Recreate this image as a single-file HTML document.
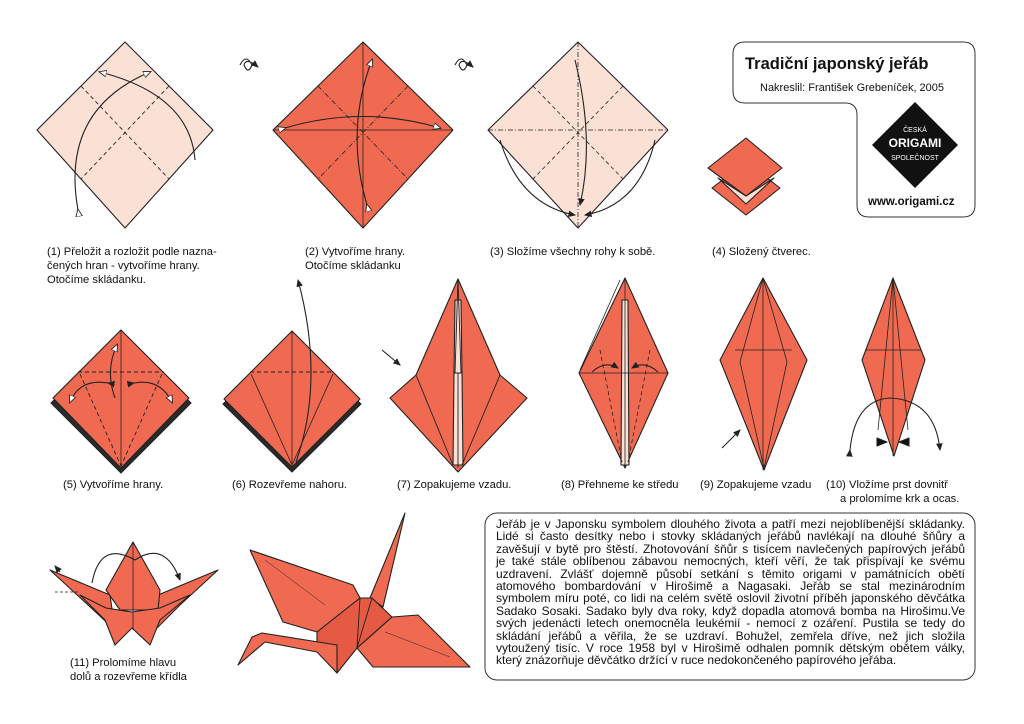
<!DOCTYPE html>
<html><head><meta charset="utf-8"><style>
body{margin:0;background:#fff;}
svg{display:block;font-family:"Liberation Sans",sans-serif;}
.l{font-size:11.2px;fill:#111;}
.p{position:absolute;left:496px;top:518px;width:469px;font:12px/12.4px "Liberation Sans",sans-serif;color:#111;}
.p div{text-align:justify;text-align-last:justify;white-space:nowrap;}
.p div.e{text-align-last:left;}
</style></head><body>
<div style="position:relative;width:1024px;height:724px;overflow:hidden">
<svg width="1024" height="724" viewBox="0 0 1024 724">
<defs>
<marker id="ah" markerWidth="8" markerHeight="8" refX="6" refY="4" orient="auto"><path d="M0,1 L7,4 L0,7 Z" fill="#fff" stroke="#222" stroke-width="0.8"/></marker>
<marker id="bh" markerWidth="8" markerHeight="8" refX="6" refY="4" orient="auto"><path d="M0,1 L7,4 L0,7 Z" fill="#222"/></marker>
</defs>
<g stroke="#222" stroke-width="1.1" stroke-linejoin="round">
<!-- 1 -->
<polygon points="125,42 213,130 125,228 37,130" fill="#fbe0d6"/>
<g stroke-dasharray="4,3" fill="none" stroke-width="0.9"><line x1="81" y1="86" x2="169" y2="179"/><line x1="169" y1="86" x2="81" y2="179"/></g>
<path d="M78,210 Q60,110 150,72" fill="none" marker-end="url(#ah)" marker-start="url(#ah)"/>
<path d="M195,160 Q190,95 100,72" fill="none" marker-end="url(#ah)"/>
<!-- 2 -->
<polygon points="363,42 453,130 363,228 273,130" fill="#f06a52"/>
<g stroke-width="0.8" fill="none"><line x1="363" y1="42" x2="363" y2="228"/><line x1="273" y1="130" x2="453" y2="130"/></g>
<g stroke-dasharray="5,2,1,2" stroke-width="0.8" fill="none"><line x1="318" y1="86" x2="408" y2="179"/><line x1="408" y1="86" x2="318" y2="179"/></g>
<path d="M285,128 Q363,105 440,128" fill="none" marker-end="url(#ah)" marker-start="url(#ah)"/>
<path d="M367,205 Q345,130 372,60" fill="none" marker-end="url(#ah)" marker-start="url(#ah)"/>
<path d="M240,65 q6,-12 12,0 q-4,10 -8,0 q2,-8 14,2" fill="none" marker-end="url(#bh)"/>
<!-- 3 -->
<polygon points="578,42 668,130 578,228 488,130" fill="#fbe0d6"/>
<g stroke-width="0.8" fill="none" stroke-dasharray="5,2,1,2"><line x1="488" y1="130" x2="668" y2="130"/><line x1="578" y1="42" x2="578" y2="228"/></g>
<g stroke-dasharray="4,3" stroke-width="0.8" fill="none"><line x1="533" y1="86" x2="623" y2="179"/><line x1="623" y1="86" x2="533" y2="179"/></g>
<path d="M500,140 Q520,205 575,215" fill="none" marker-end="url(#bh)"/>
<path d="M655,140 Q640,205 585,215" fill="none" marker-end="url(#bh)"/>
<path d="M575,60 Q595,140 580,205" fill="none" marker-end="url(#bh)"/>
<path d="M455,65 q6,-12 12,0 q-4,10 -8,0 q2,-8 14,2" fill="none" marker-end="url(#bh)"/>
<!-- 4 -->
<polygon points="712,188 746,162 780,188 746,215" fill="#f06a52"/>
<polygon points="718,178 746,204 774,178 746,196" fill="#fbe0d6"/>
<polygon points="708,168 746,138 782,168 746,196" fill="#f06a52"/>
<!-- 5 -->
<polygon points="121,335 191,403 121,473 51,403" fill="#2a2a2a"/>
<polygon points="121,330 189,398 121,468 53,398" fill="#f06a52"/>
<line x1="121" y1="330" x2="121" y2="468" stroke-width="0.8"/>
<g stroke-dasharray="4,3" fill="none" stroke-width="0.9"><line x1="78" y1="372" x2="164" y2="372"/><line x1="80" y1="374" x2="121" y2="466"/><line x1="162" y1="374" x2="121" y2="466"/></g>
<path d="M115,398 Q105,370 117,345" fill="none" marker-end="url(#ah)"/>
<path d="M108,383 Q80,378 70,402" fill="none" marker-end="url(#ah)" marker-start="url(#bh)"/>
<path d="M134,383 Q160,378 172,402" fill="none" marker-end="url(#ah)" marker-start="url(#bh)"/>
<!-- 6 -->
<polygon points="292,336 361,404 292,472 223,404" fill="#2a2a2a"/>
<polygon points="292,331 360,399 292,467 224,399" fill="#f06a52"/>
<line x1="292" y1="331" x2="292" y2="467" stroke-width="0.8"/>
<g stroke-dasharray="4,3" fill="none" stroke-width="0.9"><line x1="250" y1="372" x2="334" y2="372"/></g>
<g fill="none" stroke-width="0.8"><line x1="251" y1="374" x2="292" y2="465"/><line x1="333" y1="374" x2="292" y2="465"/></g>
<path d="M296,462 Q325,380 298,280" fill="none" marker-end="url(#bh)"/>
<!-- 7 -->
<polygon points="458,279 500,375 527,398 458,472 390,398 416,375" fill="#f06a52"/>
<polygon points="455,300 461,300 462,373 454,373" fill="#fbe0d6"/>
<polygon points="454,373 462,373 463,465 453,465" fill="#fbe0d6"/>
<g fill="none" stroke-width="0.9"><line x1="458" y1="279" x2="455" y2="373"/><line x1="458" y1="279" x2="461" y2="373"/><line x1="416" y1="375" x2="453" y2="465"/><line x1="500" y1="375" x2="462" y2="465"/><line x1="454" y1="373" x2="462" y2="373"/><line x1="458" y1="373" x2="458" y2="468"/></g>
<path d="M382,350 L400,365" fill="none" marker-end="url(#bh)"/>
<!-- 8 -->
<polygon points="625,278 668,373 625,468 579,373" fill="#f06a52"/>
<polygon points="622,300 628,300 629,465 621,465" fill="#fbe0d6"/>
<g fill="none" stroke-width="0.8"><line x1="625" y1="278" x2="625" y2="468"/><line x1="579" y1="373" x2="668" y2="373"/><line x1="620" y1="280" x2="580" y2="370"/></g>
<g fill="none" stroke-width="0.8" stroke-dasharray="4,3"><line x1="600" y1="350" x2="622" y2="462"/><line x1="650" y1="350" x2="628" y2="462"/></g>
<path d="M592,372 Q605,360 618,368" fill="none" marker-end="url(#bh)"/>
<path d="M658,372 Q645,360 632,368" fill="none" marker-end="url(#bh)"/>
<!-- 9 -->
<polygon points="763,278 807,360 764,470 720,360" fill="#f06a52"/>
<g fill="none" stroke-width="0.8"><line x1="763" y1="278" x2="763" y2="470"/><line x1="735" y1="350" x2="792" y2="350"/><line x1="740" y1="362" x2="764" y2="468"/><line x1="787" y1="362" x2="764" y2="468"/><line x1="763" y1="278" x2="740" y2="362"/><line x1="763" y1="278" x2="787" y2="362"/></g>
<path d="M722,448 L740,430" fill="none" marker-end="url(#bh)"/>
<!-- 10 -->
<polygon points="893,278 925,360 894,456 862,360" fill="#f06a52"/>
<g fill="none" stroke-width="0.8"><line x1="893" y1="278" x2="893" y2="456"/><line x1="866" y1="350" x2="921" y2="350"/><line x1="893" y1="278" x2="878" y2="430"/><line x1="893" y1="278" x2="908" y2="430"/></g>
<path d="M850,450 Q855,400 890,398 Q935,400 940,450" fill="none" marker-start="url(#bh)" marker-end="url(#bh)"/>
<path d="M877,438 l10,4 l-10,4 z M909,438 l-10,4 l10,4 z" fill="#111"/>
<!-- 11 -->
<polygon points="50,570 110,595 115,630 88,605" fill="#f06a52"/>
<polygon points="218,570 158,595 155,630 180,605" fill="#f06a52"/>
<polygon points="133,542 160,590 158,610 120,610 106,590" fill="#f06a52"/>
<polygon points="80,595 105,620 115,645 132,628 150,645 160,620 190,595 160,608 132,612 106,608" fill="#f06a52"/>
<g fill="none" stroke-width="0.8"><line x1="133" y1="542" x2="133" y2="630"/><line x1="55" y1="592" x2="80" y2="592" stroke-dasharray="3,2"/></g>
<path d="M92,583 Q100,540 135,560 Q165,540 180,580" fill="none" marker-end="url(#bh)"/>
<path d="M60,572 L55,566" fill="none" marker-end="url(#bh)"/>
<!-- crane -->
<polygon points="250,550 353,585 360,598 317,632 283,622" fill="#f06a52"/>
<polygon points="405,513 383,607 370,598" fill="#f06a52"/>
<polygon points="392,617 418,615 470,667 373,667 357,648" fill="#f06a52"/>
<polygon points="317,632 360,598 372,598 392,617 357,648 337,673 317,650" fill="#e45a43"/>
<line x1="360" y1="598" x2="357" y2="648" stroke-width="0.9"/>
<line x1="372" y1="598" x2="357" y2="648" stroke-width="0.9"/>
<polygon points="238,665 252,637 262,633 337,645 337,673 317,652 265,642" fill="#f06a52"/>
<line x1="265" y1="560" x2="325" y2="605" stroke-width="0.5"/>
<line x1="385" y1="632" x2="450" y2="657" stroke-width="0.5"/>
</g>
<text class="l" x="47" y="255">(1) Přeložit a rozložit podle nazna-</text>
<text class="l" x="47" y="269">čených hran - vytvoříme hrany.</text>
<text class="l" x="47" y="283">Otočíme skládanku.</text>
<text class="l" x="305" y="255">(2) Vytvoříme hrany.</text>
<text class="l" x="305" y="269">Otočíme skládanku</text>
<text class="l" x="490" y="255">(3) Složíme všechny rohy k sobě.</text>
<text class="l" x="712" y="255">(4) Složený čtverec.</text>
<text class="l" x="63" y="488">(5) Vytvoříme hrany.</text>
<text class="l" x="232" y="488">(6) Rozevřeme nahoru.</text>
<text class="l" x="397" y="488">(7) Zopakujeme vzadu.</text>
<text class="l" x="561" y="488">(8) Přehneme ke středu</text>
<text class="l" x="700" y="488">(9) Zopakujeme vzadu</text>
<text class="l" x="826" y="488">(10) Vložíme prst dovnitř</text>
<text class="l" x="840" y="502">a prolomíme krk a ocas.</text>
<text class="l" x="70" y="666">(11) Prolomíme hlavu</text>
<text class="l" x="70" y="680">dolů a rozevřeme křídla</text>
<!-- title box -->
<path d="M745,42 H963 Q975,42 975,54 V205 Q975,217 963,217 H869 Q857,217 857,205 V115 Q857,103 845,103 H745 Q733,103 733,91 V54 Q733,42 745,42 Z" fill="none" stroke="#333" stroke-width="1"/>
<text x="745" y="69" font-size="16.5" font-weight="bold" fill="#111">Tradiční japonský jeřáb</text>
<text x="760" y="91" font-size="11" fill="#111">Nakreslil: František Grebeníček, 2005</text>
<polygon points="915,102 958,145 915,188 872,145" fill="#111"/>
<text x="915" y="132" font-size="7" fill="#fff" text-anchor="middle">ČESKÁ</text>
<text x="915" y="147" font-size="12" font-weight="bold" fill="#fff" text-anchor="middle">ORIGAMI</text>
<text x="915" y="160" font-size="7" fill="#fff" text-anchor="middle">SPOLEČNOST</text>
<text x="868" y="205" font-size="11.5" font-weight="bold" fill="#111">www.origami.cz</text>
<rect x="485" y="513" width="490" height="167" rx="12" fill="none" stroke="#333" stroke-width="1"/>
</svg>
<div class="p">
<div>Jeřáb je v Japonsku symbolem dlouhého života a patří mezi nejoblíbenější skládanky.</div>
<div>Lidé si často desítky nebo i stovky skládaných jeřábů navlékají na dlouhé šňůry a</div>
<div>zavěšují v bytě pro štěstí. Zhotovování šňůr s tisícem navlečených papírových jeřábů</div>
<div>je také stále oblíbenou zábavou nemocných, kteří věří, že tak přispívají ke svému</div>
<div>uzdravení. Zvlášť dojemně působí setkání s těmito origami v památnících obětí</div>
<div>atomového bombardování v Hirošimě a Nagasaki. Jeřáb se stal mezinárodním</div>
<div>symbolem míru poté, co lidi na celém světě oslovil životní příběh japonského děvčátka</div>
<div>Sadako Sosaki. Sadako byly dva roky, když dopadla atomová bomba na Hirošimu.Ve</div>
<div>svých jedenácti letech onemocněla leukémií - nemocí z ozáření. Pustila se tedy do</div>
<div>skládání jeřábů a věřila, že se uzdraví. Bohužel, zemřela dříve, než jich složila</div>
<div>vytoužený tisíc. V roce 1958 byl v Hirošimě odhalen pomník dětským obětem války,</div>
<div class="e">který znázorňuje děvčátko držící v ruce nedokončeného papírového jeřába.</div>
</div>
</div>
</body></html>
